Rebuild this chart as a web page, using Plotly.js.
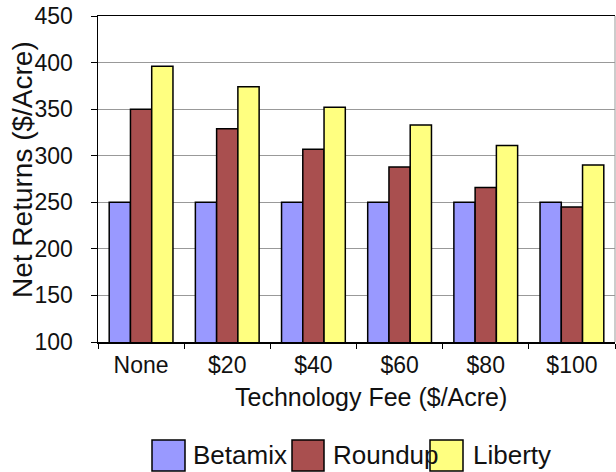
<!DOCTYPE html>
<html>
<head>
<meta charset="utf-8">
<script src="https://cdn.plot.ly/plotly-3.0.1.min.js"></script>
<style>html,body{margin:0;padding:0;background:#fff;}#chart{width:616px;height:472px;}</style>
</head>
<body>
<div id="chart"></div>
<script>
const categories = ["None", "$20", "$40", "$60", "$80", "$100"];
const betamix = [250, 250, 250, 250, 250, 250];
const roundup = [350, 329, 307, 288, 266, 245];
const liberty = [396, 374, 352, 333, 311, 290];
const seriesNames = ["Betamix", "Roundup", "Liberty"];
const seriesColors = ["#9999FF", "#A94F4F", "#FFFF80"];
const yTicks = [100, 150, 200, 250, 300, 350, 400, 450];

const FONT = "Liberation Sans, Arial, sans-serif";
const L = 98, R = 1, T = 16, B = 130, W = 616, H = 472;
const pw = W - L - R, ph = H - T - B;
const px = x => (x - L) / pw;
const py = y => (H - B - y) / ph;

const series = [betamix, roundup, liberty];
const traces = series.map((vals, i) => ({
  type: "bar",
  x: categories,
  y: vals,
  name: seriesNames[i],
  marker: {color: seriesColors[i], line: {color: "#000", width: 1.5}},
  showlegend: false,
  hoverinfo: "x+y+name"
}));

const shapes = [
  {type: "line", xref: "paper", yref: "paper", x0: 1, x1: 1, y0: 0, y1: 1,
   line: {color: "#999", width: 1}}
];
const annotations = [
  {text: "Net Returns ($/Acre)", xref: "paper", yref: "paper", x: px(22), y: py(170),
   xanchor: "center", yanchor: "middle", textangle: -90, showarrow: false,
   font: {family: FONT, size: 28, color: "#111"}},
  {text: "Technology Fee ($/Acre)", xref: "paper", yref: "paper", x: px(371), y: py(397),
   xanchor: "center", yanchor: "middle", showarrow: false,
   font: {family: FONT, size: 25, color: "#111"}}
];
// legend drawn manually (large swatches)
const legendBoxes = [[152, 185], [292, 324], [430, 463]];
const legendTextX = [191, 331, 471];
seriesNames.forEach((n, i) => {
  shapes.push({type: "rect", xref: "paper", yref: "paper",
    x0: px(legendBoxes[i][0]), x1: px(legendBoxes[i][1]), y0: py(471), y1: py(440),
    fillcolor: seriesColors[i], line: {color: "#000", width: 1.5}});
  annotations.push({text: n, xref: "paper", yref: "paper", x: px(legendTextX[i]), y: py(455),
    xanchor: "left", yanchor: "middle", showarrow: false,
    font: {family: FONT, size: 26, color: "#111"}});
});

const layout = {
  width: W, height: H,
  margin: {l: L, r: R, t: T, b: B, pad: 0},
  paper_bgcolor: "#fff", plot_bgcolor: "#fff",
  barmode: "group", bargap: 0.26, bargroupgap: 0,
  showlegend: false,
  font: {family: FONT, color: "#111"},
  xaxis: {
    type: "category",
    showline: true, linecolor: "#000", linewidth: 1.5, mirror: true,
    ticks: "outside", tickson: "boundaries", ticklen: 5, tickcolor: "#000", tickwidth: 1,
    ticklabelstandoff: 2,
    tickfont: {family: FONT, size: 23, color: "#111"},
    showgrid: false, zeroline: false
  },
  yaxis: {
    range: [100, 450], tickvals: yTicks, ticktext: yTicks.map(String),
    showline: true, linecolor: "#000", linewidth: 1.5,
    ticks: "outside", ticklen: 6, tickcolor: "#000", tickwidth: 1,
    ticklabelstandoff: 13,
    tickfont: {family: FONT, size: 23, color: "#111"},
    showgrid: true, gridcolor: "#999", gridwidth: 1, zeroline: false
  },
  shapes: shapes,
  annotations: annotations
};

Plotly.newPlot("chart", traces, layout, {displayModeBar: false, staticPlot: true});
</script>
</body>
</html>
